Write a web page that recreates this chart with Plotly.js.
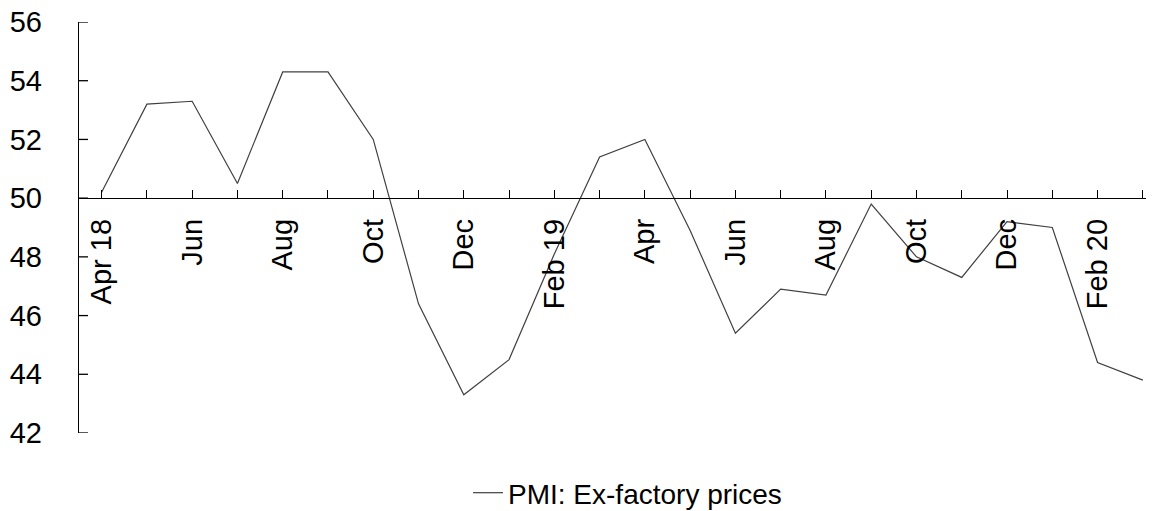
<!DOCTYPE html>
<html>
<head>
<meta charset="utf-8">
<script src="https://cdn.plot.ly/plotly-3.0.1.min.js"></script>
<style>html,body{margin:0;padding:0;background:#fff;}#chart{width:1157px;height:511px;}</style>
</head>
<body>
<div id="chart"></div>
<script>
const months = ["Apr 18","May 18","Jun 18","Jul 18","Aug 18","Sep 18","Oct 18","Nov 18","Dec 18",
  "Jan 19","Feb 19","Mar 19","Apr 19","May 19","Jun 19","Jul 19","Aug 19","Sep 19","Oct 19","Nov 19","Dec 19",
  "Jan 20","Feb 20","Mar 20"];
const exFactoryPrices = [50.2,53.2,53.3,50.5,54.3,54.3,52.0,46.4,43.3,
  44.5,48.1,51.4,52.0,48.9,45.4,46.9,46.7,49.8,48.0,47.3,49.2,
  49.0,44.4,43.8];
const tickLabels = ["Apr 18","","Jun","","Aug","","Oct","","Dec","","Feb 19","","Apr","","Jun","","Aug","","Oct","","Dec","","Feb 20",""];
const yTicks = [42,44,46,48,50,52,54,56];
const seriesName = "PMI: Ex-factory prices";

const fontFam = "Liberation Sans, Arial, sans-serif";
const trace = {
  x: months, y: exFactoryPrices, type: 'scatter', mode: 'lines', name: seriesName,
  line: {color: '#404040', width: 1.2}
};
// inward y-axis tick marks (9 px), one per y tick value
const yTickShapes = yTicks.map(v => ({
  type: 'line', layer: 'above', xref: 'paper', yref: 'y',
  xsizemode: 'pixel', xanchor: 0, x0: 0, x1: 9, y0: v, y1: v,
  line: {color: '#000', width: 1.3}
}));
const layout = {
  width: 1157, height: 511,
  margin: {l: 79, r: 11, t: 22, b: 78, autoexpand: false},
  paper_bgcolor: '#fff', plot_bgcolor: '#fff',
  font: {family: fontFam, size: 28, color: '#000'},
  showlegend: true,
  legend: {orientation: 'h', x: 0.3646, xanchor: 'left', yref: 'container', y: 1 - 493/511, yanchor: 'middle',
    font: {family: fontFam, size: 28, color: '#000'}, bgcolor: 'rgba(0,0,0,0)'},
  shapes: yTickShapes,
  xaxis: {
    type: 'category', range: [-0.5, 23.07],
    tickmode: 'array', tickvals: months, ticktext: tickLabels,
    tickangle: -90, ticks: 'inside', ticklen: 8, tickcolor: '#000', tickwidth: 1,
    showline: true, linecolor: '#000', linewidth: 1.2,
    showgrid: false, zeroline: false,
    anchor: 'free', position: (50-42)/(56-42),
    ticklabelstandoff: 8,
    tickfont: {family: fontFam, size: 29, color: '#000'}
  },
  yaxis: {
    range: [42, 56], tickmode: 'array', tickvals: yTicks,
    ticks: '',
    showline: true, linecolor: '#000', linewidth: 1.2,
    showgrid: false, zeroline: false,
    ticklabelstandoff: 30,
    tickfont: {family: fontFam, size: 29, color: '#000'}
  }
};
Plotly.newPlot('chart', [trace], layout, {displayModeBar: false, staticPlot: true});
</script>
</body>
</html>
